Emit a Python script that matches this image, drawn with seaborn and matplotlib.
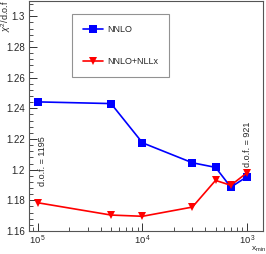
import numpy as np
import pandas as pd
import matplotlib
matplotlib.use("Agg")
import matplotlib.pyplot as plt
from matplotlib.ticker import MultipleLocator, FixedLocator, NullFormatter
import seaborn as sns

# ── Data ───────────────────────────────────────────────────────────────────
x_min = [1e-5, 5e-5, 1e-4, 3e-4, 5e-4, 7e-4, 1e-3]
chi2_nnlo = [1.2442, 1.2431, 1.2175, 1.2045, 1.2015, 1.1886, 1.1954]
chi2_nnlo_nllx = [1.1784, 1.1704, 1.1696, 1.1756, 1.1930, 1.1898, 1.1980]
series_names = ["NNLO", "NNLO+NLLx"]
dof_labels = ["d.o.f. = 1195", "d.o.f. = 921"]
x_ticks = [1e-5, 1e-4, 1e-3]
x_tick_labels = ["$10^{\\,5}$", "$10^{\\,4}$", "$10^{\\,3}$"]

df = pd.DataFrame({
    "x": x_min * 2,
    "chi2": chi2_nnlo + chi2_nnlo_nllx,
    "fit": [series_names[0]] * len(x_min) + [series_names[1]] * len(x_min),
})

sns.set_theme(style="white")
plt.rcParams["font.family"] = ["Liberation Sans", "DejaVu Sans"]
plt.rcParams["mathtext.fontset"] = "custom"
plt.rcParams["mathtext.rm"] = "Liberation Sans"
plt.rcParams["mathtext.it"] = "Liberation Sans:italic"

fig = plt.figure(figsize=(2.66, 2.54), dpi=100)
ax = fig.add_axes([29 / 266, 1 - 231 / 254, (263 - 29) / 266, 230 / 254])

palette = {"NNLO": "#0000ff", "NNLO+NLLx": "#ff0000"}
markers = {"NNLO": "s", "NNLO+NLLx": "v"}
sns.lineplot(data=df, x="x", y="chi2", hue="fit", style="fit",
             palette=palette, markers=markers, dashes=False,
             markersize=5.5, markeredgewidth=0, linewidth=1.2, ax=ax)

ax.set_xscale("log")
ax.set_xlim(10 ** -5.086, 10 ** -2.847)
ax.set_ylim(1.16, 1.31)

# ticks, ROOT-like: inside, major + minor
ax.xaxis.set_major_locator(FixedLocator(x_ticks))
ax.set_xticks(x_ticks)
ax.set_xticklabels(x_tick_labels)
minor = [m * 10.0 ** e for e in (-6, -5, -4, -3) for m in range(2, 10)]
ax.xaxis.set_minor_locator(FixedLocator(minor))
ax.xaxis.set_minor_formatter(NullFormatter())
ax.yaxis.set_major_locator(MultipleLocator(0.02))
ax.yaxis.set_minor_locator(MultipleLocator(0.004))
ax.set_yticklabels([f"{v:g}" for v in ax.get_yticks()])
ax.tick_params(which="major", direction="in", length=6, width=0.7,
               labelsize=7, color="#333333", left=True, bottom=True, pad=3)
ax.tick_params(which="minor", direction="in", length=3, width=0.6,
               color="#333333", left=True, bottom=True)
ax.tick_params(axis="x", which="major", pad=2, labelsize=6.8)
for s in ax.spines.values():
    s.set_color("#555555")
    s.set_linewidth(0.8)

ax.set_xlabel("")
ax.set_ylabel("")
fig.text(266 / 266, 0, "x$_{\\mathrm{min}}$", fontsize=6,
         ha="right", va="bottom")
fig.text(6 / 266, 1 - 16 / 254, "$\\chi^2$/d.o.f", fontsize=6.5,
         rotation=90, ha="center", va="center")

# d.o.f. annotations
ax.text(1.1e-5, 1.2058, dof_labels[0], rotation=90, fontsize=6.5,
        ha="center", va="center")
ax.text(1.0e-3, 1.2165, dof_labels[1], rotation=90, fontsize=6.5,
        ha="center", va="center")

# legend box
ax.get_legend().remove()
handles, labels = ax.get_legend_handles_labels()
leg = ax.legend(handles, labels, loc="upper left",
                bbox_to_anchor=((72 - 29) / 234, 1 - 13 / 230),
                fontsize=6.5, frameon=True, fancybox=False, labelspacing=2.6,
                handlelength=2.2, handletextpad=0.5, borderpad=1.2,
                borderaxespad=0)
leg.get_frame().set_edgecolor("#777777")
leg.get_frame().set_linewidth(0.8)

fig.savefig("out.png", dpi=100)
